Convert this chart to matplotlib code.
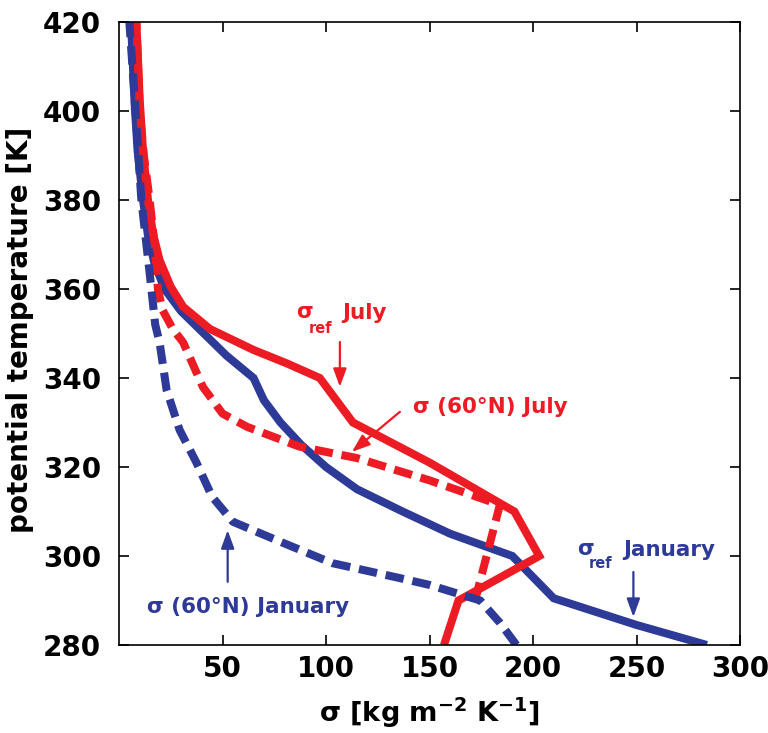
import matplotlib
matplotlib.use("Agg")
import matplotlib.pyplot as plt

# ---------------- data ----------------
# sigma_ref January (solid blue)
jan_ref_sigma = [284, 250, 210, 190, 160, 137, 115, 100, 88, 78, 70, 65, 52, 41, 30, 22, 17, 14, 11.6, 9, 7.5, 6]
jan_ref_theta = [280, 284.5, 290.5, 300, 305, 310, 315, 320, 325, 330, 335, 340, 345, 350, 355, 360, 366, 372, 380, 391, 402, 418]

# sigma_ref July (solid red)
jul_ref_sigma = [157, 164, 203, 191, 150, 113, 97, 81, 65, 44, 31, 25, 19.6, 16.4, 14, 11.6, 10, 8.4]
jul_ref_theta = [280, 290, 300, 310, 321, 330, 340, 343.3, 346.3, 351, 356, 360.5, 366.5, 372.5, 380, 391, 402.5, 420]

# sigma(60N) July (dashed red)
jul_60_sigma = [172, 184, 150, 115, 87, 62, 50, 40.5, 31, 26, 21, 18.8, 17.2, 14.8, 12, 10, 8.4]
jul_60_theta = [290, 311.5, 317, 322, 324.6, 329, 332, 338, 348, 351, 355.3, 360, 370, 380, 390, 400, 420]

# sigma(60N) January (dashed blue)
jan_60_sigma = [192, 184, 174.5, 150, 136, 103, 79, 55, 45, 37.4, 29.3, 23, 19.6, 17.5, 14.8, 10.8, 8, 5]
jan_60_theta = [280, 285, 290, 293.5, 295, 298.4, 303, 307.7, 313.3, 321, 328.3, 337.3, 348, 352, 363.6, 380, 400, 420]

xticks = [50, 100, 150, 200, 250, 300]
yticks = [280, 300, 320, 340, 360, 380, 400, 420]

RED = "#ED1C24"
BLUE = "#2E3A97"

plt.rcParams["font.family"] = ["DejaVu Sans"]
plt.rcParams["mathtext.default"] = "regular"

fig = plt.figure(figsize=(7.68, 7.33), dpi=100)
ax = fig.add_axes([119 / 768, 1 - 645 / 733, (740 - 119) / 768, (645 - 22) / 733])

lw = 5.8
ax.plot(jan_ref_sigma, jan_ref_theta, color=BLUE, lw=lw, solid_joinstyle="miter", solid_capstyle="butt")
ax.plot(jul_ref_sigma, jul_ref_theta, color=RED, lw=lw, solid_joinstyle="miter", solid_capstyle="butt")
ax.plot(jul_60_sigma, jul_60_theta, color=RED, lw=lw, dashes=(2.3, 1.1), dash_capstyle="butt")
ax.plot(jan_60_sigma, jan_60_theta, color=BLUE, lw=lw, dashes=(2.3, 1.1), dash_capstyle="butt")

ax.set_xlim(0, 300)
ax.set_ylim(280, 420)
ax.set_xticks(xticks)
ax.set_yticks(yticks)
ax.set_xticklabels([str(v) for v in xticks], fontweight="bold")
ax.set_yticklabels([str(v) for v in yticks], fontweight="bold")
ax.tick_params(axis="both", direction="in", length=7, width=1.2, top=True, right=True, labelsize=20)
ax.tick_params(axis="y", pad=13)
ax.tick_params(axis="x", pad=7)
for s in ax.spines.values():
    s.set_linewidth(1.2)

ax.set_ylabel("potential temperature [K]", fontsize=20, fontweight="bold")
ax.yaxis.label.set_va("center")
ax.yaxis.set_label_coords(-0.159, 0.5056)
ax.set_xlabel(r"σ [kg m$^{-2}$ K$^{-1}$]", fontsize=19.5, fontweight="bold")
ax.xaxis.label.set_va("center")
ax.xaxis.set_label_coords(0.5, -0.109)

afs = 15.5
arrow_kw = dict(arrowstyle="-|>,head_length=0.55,head_width=0.2", lw=1.6, shrinkA=0, shrinkB=0, mutation_scale=20)


def sigma_ref_label(x, y, word, color, ref_dy, word_dx):
    ax.text(x, y, "σ", color=color, fontsize=afs, fontweight="bold", ha="left", va="baseline")
    ax.annotate("ref", xy=(x, y), xytext=(8.5, ref_dy), textcoords="offset points",
                color=color, fontsize=10.5, fontweight="bold", ha="left", va="baseline")
    ax.annotate(word, xy=(x, y), xytext=(word_dx, -1), textcoords="offset points",
                color=color, fontsize=afs, fontweight="bold", ha="left", va="baseline")


# annotations
sigma_ref_label(85.8, 353.5, "July", RED, -11, 33)
ax.annotate("", xy=(106.7, 338.0), xytext=(106.7, 348.1), arrowprops=dict(color=RED, **arrow_kw))

ax.text(142.0, 332.1, "σ (60°N) July", color=RED, fontsize=afs, fontweight="bold", ha="left", va="baseline")
ax.annotate("", xy=(112.5, 323.4), xytext=(135.7, 332.4), arrowprops=dict(color=RED, **arrow_kw))

ax.text(13.4, 287.2, "σ (60°N) January", color=BLUE, fontsize=afs, fontweight="bold", ha="left", va="baseline")
ax.annotate("", xy=(52.5, 305.8), xytext=(52.5, 294.2), arrowprops=dict(color=BLUE, **arrow_kw))

sigma_ref_label(221.4, 300.2, "January", BLUE, -9.5, 33)
ax.annotate("", xy=(248.5, 286.3), xytext=(248.5, 296.4), arrowprops=dict(color=BLUE, **arrow_kw))

fig.savefig("out.png", dpi=100)
